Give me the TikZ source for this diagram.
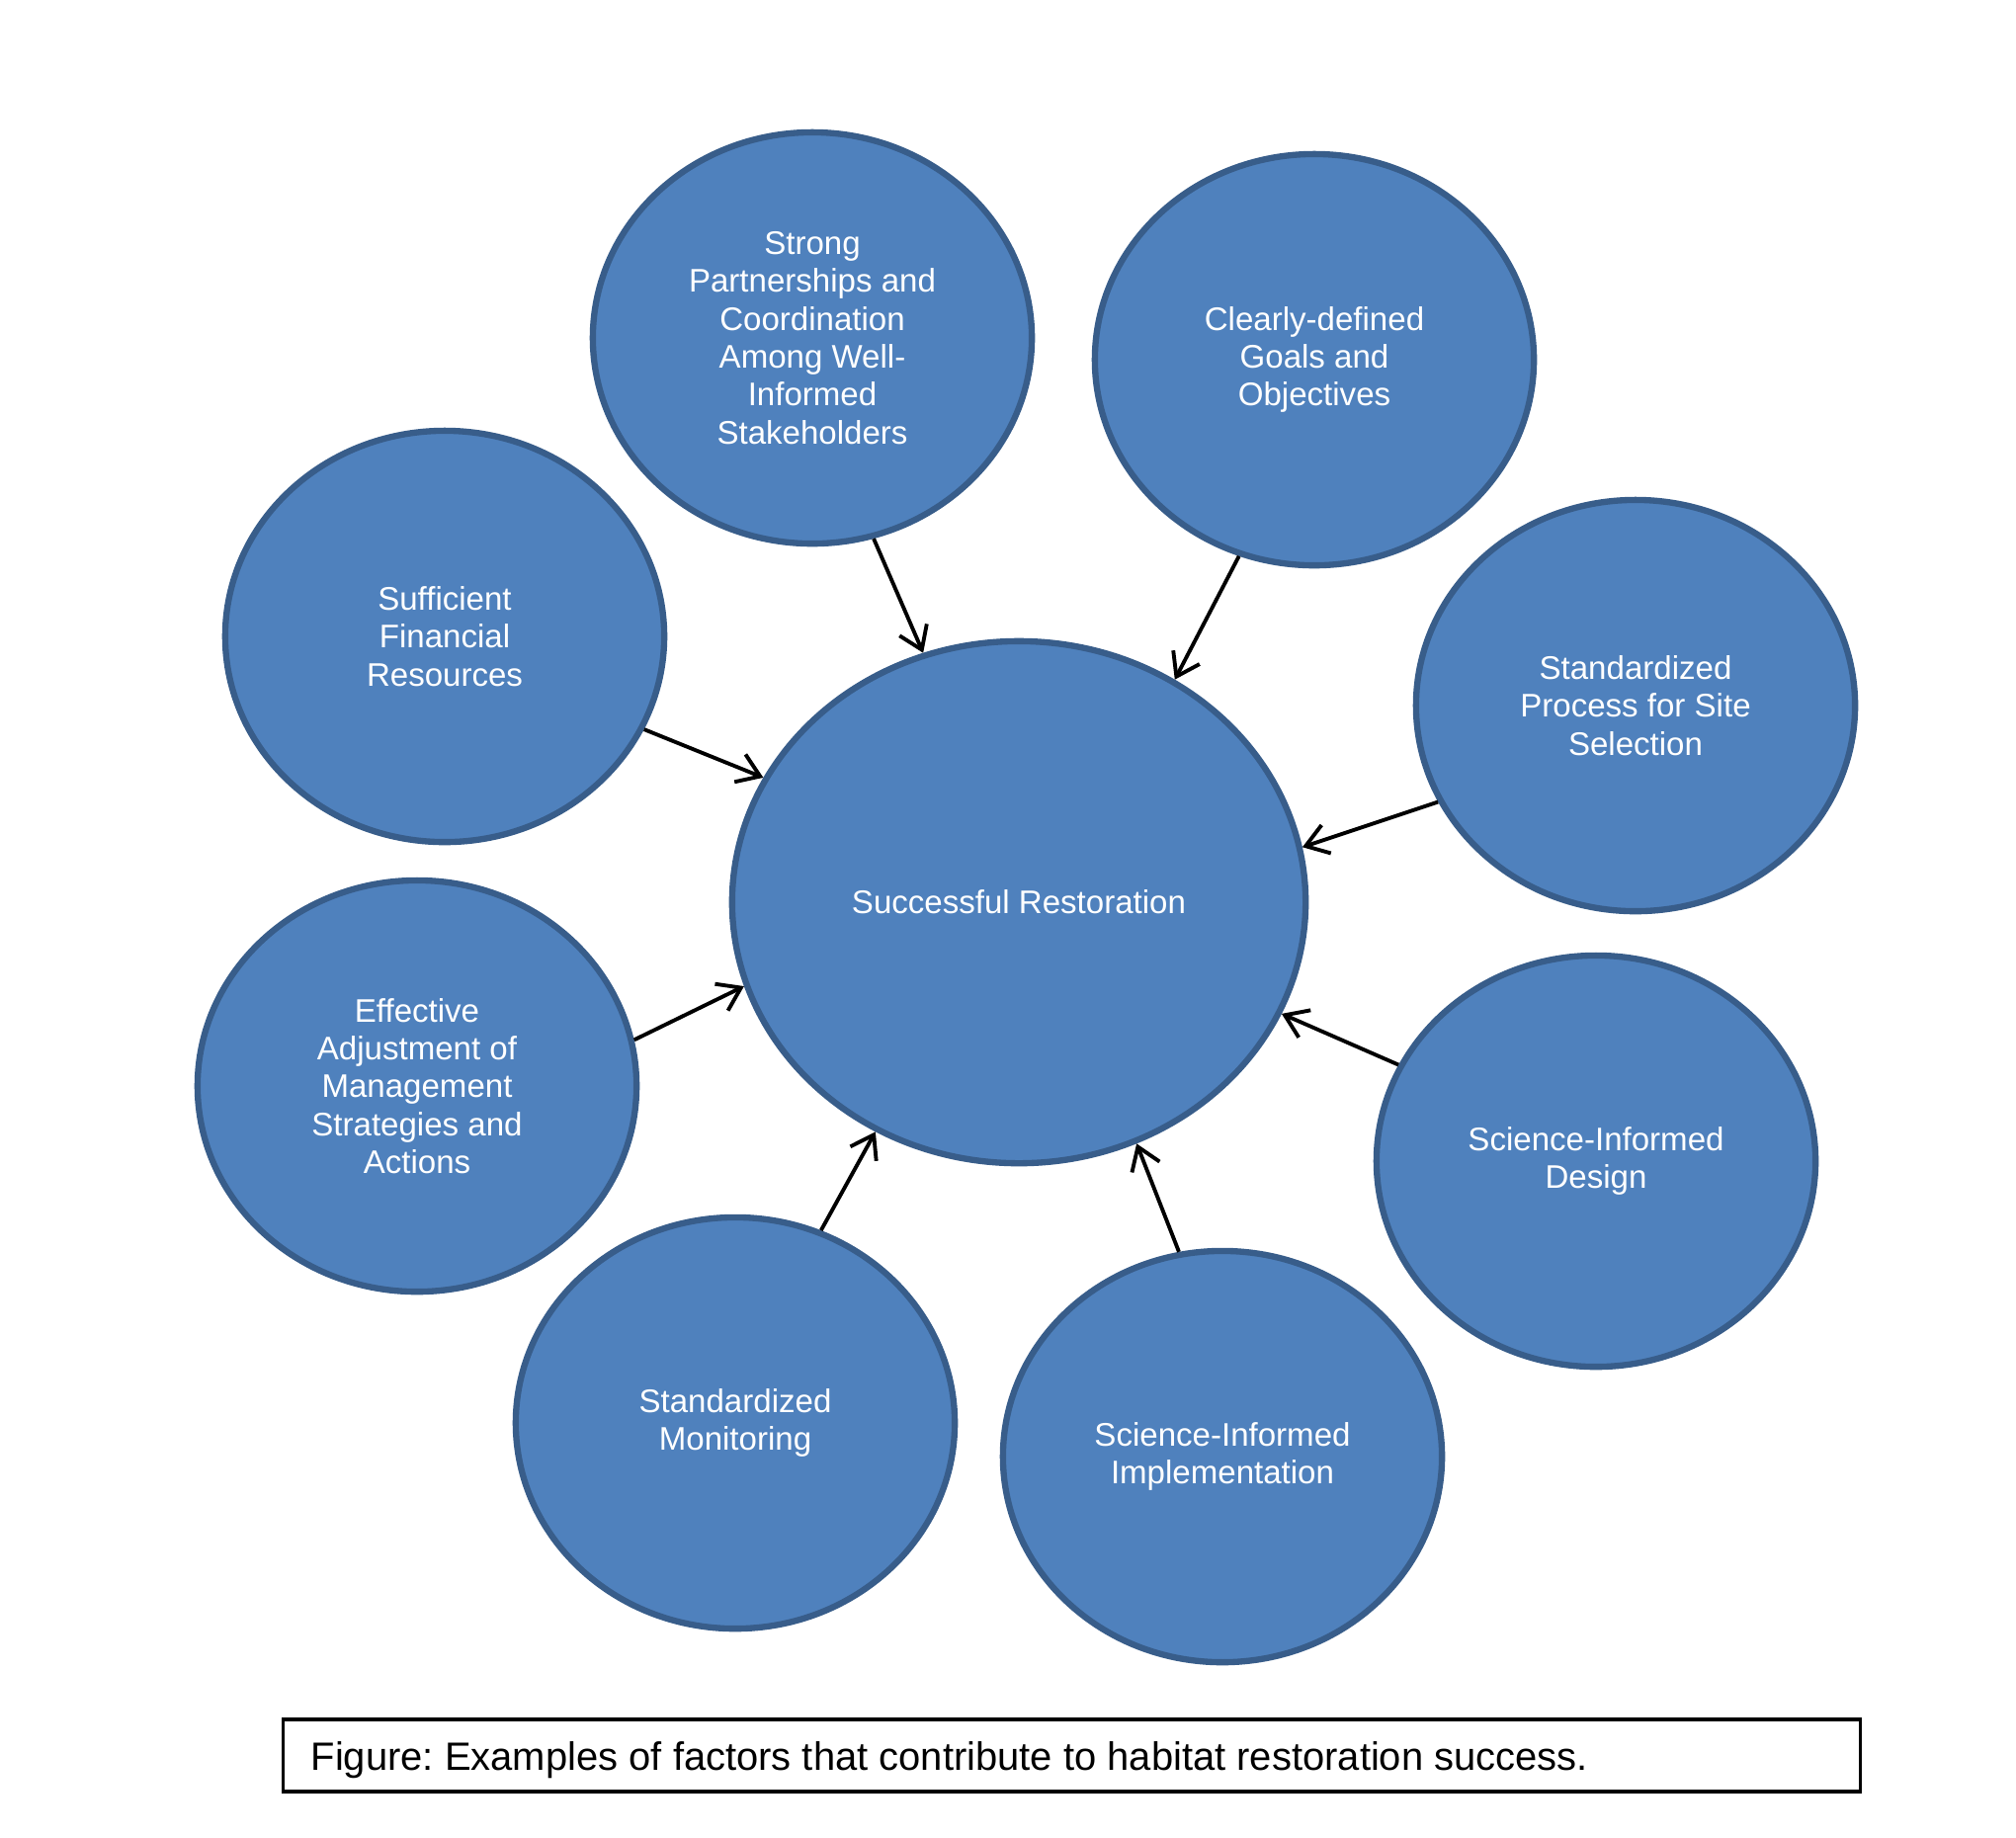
\documentclass[tikz,border=0pt]{standalone}
\usepackage{fontspec}
\setmainfont{Liberation Sans}
\usetikzlibrary{shapes.geometric,arrows.meta}
\definecolor{bfill}{HTML}{4F81BD}
\definecolor{bdraw}{HTML}{385D8A}
\frenchspacing
\begin{document}
\begin{tikzpicture}[x=0.01cm,y=-0.01cm,
  factor/.style={ellipse, fill=bfill, draw=bdraw, line width=1.8pt,
    minimum width=4.44cm, minimum height=4.16cm, text=white, align=center,
    font=\fontsize{9.4}{10.9}\selectfont, inner sep=0pt},
  hub/.style={factor, minimum width=5.80cm, minimum height=5.28cm},
  link/.style={line width=1.1pt, -{Straight Barb[length=0.22cm,width=0.3cm]}}]
\fill[white] (0,0) rectangle (2040,1859);
\useasboundingbox (0,0) rectangle (2040,1859);

\node[hub] (main) at (1031,913) {Successful Restoration};

\node[factor] (strong) at (822,342) {Strong\\Partnerships and\\Coordination\\Among Well-\\Informed\\Stakeholders};
\node[factor] (goals) at (1330,364) {Clearly-defined\\Goals and\\Objectives};
\node[factor] (money) at (450,644) {Sufficient\\Financial\\Resources};
\node[factor] (site) at (1655,714) {Standardized\\Process for Site\\Selection};
\node[factor] (adjust) at (422,1099) {Effective\\Adjustment of\\Management\\Strategies and\\Actions};
\node[factor] (design) at (1615,1175) {Science-Informed\\Design};
\node[factor] (monitor) at (744,1440) {Standardized\\Monitoring};
\node[factor] (implement) at (1237,1474) {Science-Informed\\Implementation};

\draw[link] (strong.287.9) -- (main.111.1);
\draw[link] (goals.249) -- (main.55.4);
\draw[link] (money.335.4) -- (main.154.7);
\draw[link] (site.206.3) -- (main.11.4);
\draw[link] (adjust.12.7) -- (main.197.3);
\draw[link] (design.154.2) -- (main.337.9);
\draw[link] (monitor.66.7) -- (main.238.7);
\draw[link] (implement.102.9) -- (main.296.7);

\node[draw=black, line width=1.1pt, minimum width=15.95cm, minimum height=0.73cm, inner sep=0pt] (capbox) at (1084.5,1776.5) {};
\node[anchor=base west, inner sep=0pt, font=\fontsize{11.36}{13}\selectfont] (captext) at (314,1791) {Figure: Examples of factors that contribute to habitat restoration success.};
\end{tikzpicture}
\end{document}
